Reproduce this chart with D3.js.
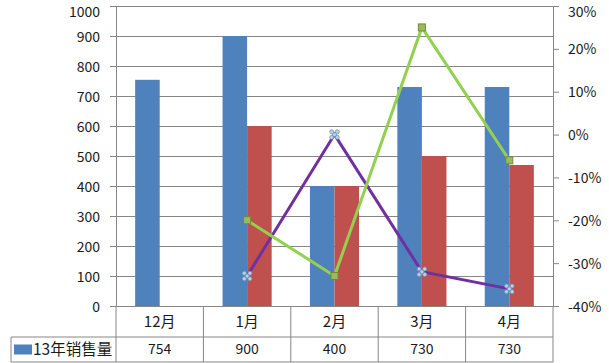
<!DOCTYPE html>
<html>
<head>
<meta charset="utf-8">
<script src="https://cdn.jsdelivr.net/npm/d3@7"></script>
<style>
  body { margin: 0; background: #fff; }
  svg text { font-family: "Noto Sans CJK SC", "Noto Sans", sans-serif; fill: #1a1a1a; }
</style>
</head>
<body>
<div id="chart"></div>
<script>
var categories = ['12月', '1月', '2月', '3月', '4月'];
var sales13 = [754, 900, 400, 730, 730];
var sales14 = [null, 600, 400, 500, 470];
var growthGreen = [null, -20, -33, 25, -6];
var growthPurple = [null, -33, 0, -32, -36];
var leftTicks = [0, 100, 200, 300, 400, 500, 600, 700, 800, 900, 1000];
var rightTicks = [-40, -30, -20, -10, 0, 10, 20, 30];
var legendName = '13年销售量';

var width = 609, height = 363;
var plot = { left: 116, right: 553, top: 6, bottom: 306 };
var rowH = [31, 25];

var svg = d3.select('#chart').append('svg')
    .attr('width', width)
    .attr('height', height);

var x = d3.scaleBand()
    .domain(categories)
    .range([plot.left, plot.right])
    .padding(0);

var xs = d3.scaleBand()
    .domain(['a', 'b'])
    .range([0, x.bandwidth()])
    .paddingInner(0)
    .paddingOuter(0.78);

var y = d3.scaleLinear().domain([0, 1000]).range([plot.bottom, plot.top]);
var y2 = d3.scaleLinear().domain([-40, 30]).range([plot.bottom, plot.top]);

var gridColor = '#868686';

// gridlines + left axis
var leftAxis = d3.axisLeft(y).tickValues(leftTicks).tickSize(6).tickPadding(10)
    .tickFormat(d3.format('d'));
var gl = svg.append('g').attr('transform', 'translate(' + plot.left + ',0)').call(leftAxis);
gl.select('.domain').attr('stroke', gridColor);
gl.selectAll('.tick line').attr('stroke', gridColor);
gl.selectAll('.tick text').attr('font-size', 14).attr('dy', '0.36em').style('fill', '#1a1a1a');
gl.selectAll('.tick').append('line')
    .attr('x1', 0).attr('x2', plot.right - plot.left)
    .attr('stroke', gridColor);

// right axis
var rightAxis = d3.axisRight(y2).tickValues(rightTicks).tickSize(6).tickPadding(9)
    .tickFormat(function (d) { return d + '%'; });
var gr = svg.append('g').attr('transform', 'translate(' + plot.right + ',0)').call(rightAxis);
gr.select('.domain').attr('stroke', gridColor);
gr.selectAll('.tick line').attr('stroke', gridColor);
gr.selectAll('.tick text').attr('font-size', 14).attr('dy', '0.36em').style('fill', '#1a1a1a');

// keep the two top labels inside the window
gl.selectAll('.tick').filter(function (d) { return d === 1000; }).select('text')
    .each(nudge);
gr.selectAll('.tick').filter(function (d) { return d === 30; }).select('text')
    .each(nudge);
function nudge() {
    var top = this.getBBox().y + plot.top;
    if (top < 0) d3.select(this).attr('y', -top);
}

// bars
var barData = [];
categories.forEach(function (c, i) {
    if (sales13[i] != null) barData.push({ c: c, k: 'a', v: sales13[i], color: '#4F81BD' });
    if (sales14[i] != null) barData.push({ c: c, k: 'b', v: sales14[i], color: '#C0504D' });
});
svg.append('g').selectAll('rect')
    .data(barData)
    .join('rect')
    .attr('x', function (d) { return x(d.c) + xs(d.k); })
    .attr('width', xs.bandwidth())
    .attr('y', function (d) { return y(d.v); })
    .attr('height', function (d) { return y(0) - y(d.v); })
    .attr('fill', function (d) { return d.color; });

// lines
function pts(arr) {
    return categories.map(function (c, i) { return { c: c, v: arr[i] }; })
        .filter(function (d) { return d.v != null; });
}
var line = d3.line()
    .x(function (d) { return x(d.c) + x.bandwidth() / 2; })
    .y(function (d) { return y2(d.v); });

var purple = pts(growthPurple), green = pts(growthGreen);

svg.append('path').datum(purple).attr('d', line)
    .attr('fill', 'none').attr('stroke', '#7030A0').attr('stroke-width', 3);
svg.append('path').datum(green).attr('d', line)
    .attr('fill', 'none').attr('stroke', '#92D050').attr('stroke-width', 3);

// purple markers: x of small circles
var pm = svg.append('g').selectAll('g')
    .data(purple)
    .join('g')
    .attr('transform', function (d) { return 'translate(' + (x(d.c) + x.bandwidth() / 2) + ',' + y2(d.v) + ')'; });
[[-2.8, -2.8], [2.8, -2.8], [-2.8, 2.8], [2.8, 2.8], [0, 0]].forEach(function (o) {
    pm.append('circle').attr('cx', o[0]).attr('cy', o[1]).attr('r', 2)
        .attr('fill', '#b9d3e8').attr('stroke', '#6f93b3').attr('stroke-width', 0.8);
});

// green markers: squares
svg.append('g').selectAll('rect')
    .data(green)
    .join('rect')
    .attr('x', function (d) { return x(d.c) + x.bandwidth() / 2 - 3.5; })
    .attr('y', function (d) { return y2(d.v) - 3.5; })
    .attr('width', 7).attr('height', 7)
    .attr('fill', '#9BBB59').attr('stroke', '#71893F').attr('stroke-width', 1);

// data table
var t = svg.append('g').attr('stroke', gridColor).attr('stroke-width', 1);
var r1 = plot.bottom + rowH[0], r2 = r1 + rowH[1];
var tableLeft = 11;
t.append('line').attr('x1', tableLeft).attr('x2', plot.right).attr('y1', r1).attr('y2', r1);
t.append('line').attr('x1', tableLeft).attr('x2', plot.right).attr('y1', r2).attr('y2', r2);
t.append('line').attr('x1', tableLeft).attr('x2', tableLeft).attr('y1', r1).attr('y2', r2);
var edges = categories.map(function (c) { return x(c); }).concat([plot.right]);
t.selectAll('.v').data(edges).join('line')
    .attr('x1', function (d) { return d; }).attr('x2', function (d) { return d; })
    .attr('y1', plot.bottom).attr('y2', r2);

svg.append('g').selectAll('text')
    .data(categories)
    .join('text')
    .attr('x', function (d) { return x(d) + x.bandwidth() / 2; })
    .attr('y', plot.bottom + rowH[0] / 2)
    .attr('dy', '0.35em')
    .attr('text-anchor', 'middle')
    .attr('font-size', 15)
    .text(function (d) { return d; });

svg.append('g').selectAll('text')
    .data(categories)
    .join('text')
    .attr('x', function (d) { return x(d) + x.bandwidth() / 2; })
    .attr('y', r1 + rowH[1] / 2)
    .attr('dy', '0.35em')
    .attr('text-anchor', 'middle')
    .attr('font-size', 14)
    .text(function (d, i) { return sales13[i]; });

// legend key inside table
svg.append('rect')
    .attr('x', 14).attr('y', r1 + rowH[1] / 2 - 5)
    .attr('width', 18).attr('height', 10)
    .attr('fill', '#4F81BD');
svg.append('text')
    .attr('x', 33).attr('y', r1 + rowH[1] / 2)
    .attr('dy', '0.35em')
    .attr('font-size', 15.5)
    .text(legendName);
</script>
</body>
</html>
